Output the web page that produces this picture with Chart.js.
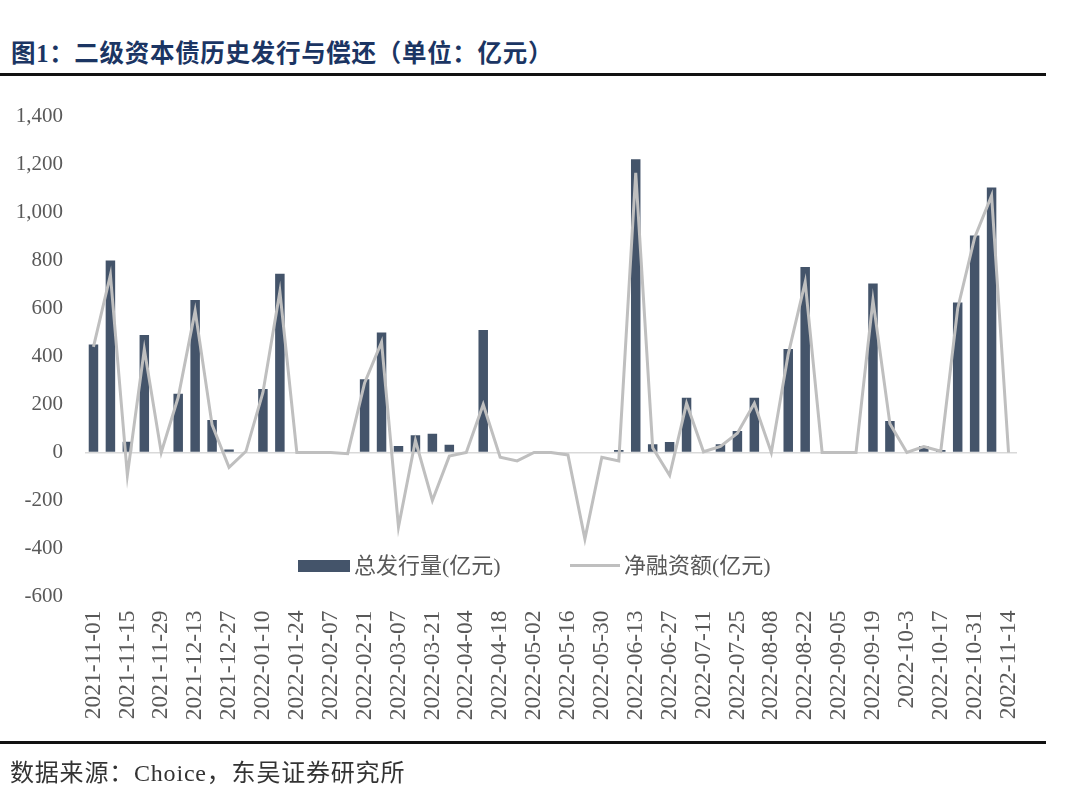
<!DOCTYPE html>
<html>
<head>
<meta charset="utf-8">
<title>二级资本债历史发行与偿还</title>
<script src="https://cdn.jsdelivr.net/npm/chart.js@4.4.1/dist/chart.umd.min.js"></script>
<style>
    body {
        margin: 0;
        width: 1080px;
        height: 802px;
        background: #fff;
        position: relative;
        overflow: hidden;
        font-family: "Liberation Serif", "Noto Sans CJK SC", serif;
    }
    #chart {
        position: absolute;
        left: 0;
        top: 0;
    }
    .title {
        position: absolute;
        left: 11px;
        top: 34px;
        font: bold 24.5px "Liberation Serif", "Noto Sans CJK SC", serif;
        letter-spacing: 0.7px;
        color: #1b3563;
        white-space: nowrap;
    }
    .rule {
        position: absolute;
        left: 0;
        width: 1046px;
        height: 3px;
        background: #111;
    }
    .source {
        position: absolute;
        left: 10px;
        top: 753px;
        font-size: 24px;
        letter-spacing: 0.8px;
        color: #333;
        white-space: nowrap;
    }
    .legend {
        position: absolute;
        top: 552px;
        font-size: 22px;
        color: #595959;
        white-space: nowrap;
        line-height: 28px;
    }
    .swatch {
        display: inline-block;
        vertical-align: middle;
        margin-right: 4px;
        position: relative;
        top: -2px;
    }
</style>
</head>
<body>
<div class="title">图1：二级资本债历史发行与偿还（单位：亿元）</div>
<div class="rule" style="top:73px"></div>

<canvas id="chart" width="1080" height="802"></canvas>

<div class="legend" style="left:298px"><span class="swatch" style="width:52px;height:12px;background:#44546a"></span>总发行量(亿元)</div>
<div class="legend" style="left:570px"><span class="swatch" style="width:50px;height:3px;background:#bfbfbf"></span>净融资额(亿元)</div>

<div class="rule" style="top:741px"></div>
<div class="source">数据来源：Choice，东吴证券研究所</div>

<script>
// weekly dates (every other one is shown on the axis)
const dates = [
    '2021-11-01', '2021-11-08', '2021-11-15', '2021-11-22', '2021-11-29',
    '2021-12-06', '2021-12-13', '2021-12-20', '2021-12-27', '2022-01-03',
    '2022-01-10', '2022-01-17', '2022-01-24', '2022-01-31', '2022-02-07',
    '2022-02-14', '2022-02-21', '2022-02-28', '2022-03-07', '2022-03-14',
    '2022-03-21', '2022-03-28', '2022-04-04', '2022-04-11', '2022-04-18',
    '2022-04-25', '2022-05-02', '2022-05-09', '2022-05-16', '2022-05-23',
    '2022-05-30', '2022-06-06', '2022-06-13', '2022-06-20', '2022-06-27',
    '2022-07-04', '2022-07-11', '2022-07-18', '2022-07-25', '2022-08-01',
    '2022-08-08', '2022-08-15', '2022-08-22', '2022-08-29', '2022-09-05',
    '2022-09-12', '2022-09-19', '2022-09-26', '2022-10-3', '2022-10-10',
    '2022-10-17', '2022-10-24', '2022-10-31', '2022-11-07', '2022-11-14'
];

// 总发行量(亿元)
const totalIssue = [
    450, 800, 45, 490, 0, 245, 635, 135, 12, 0,
    265, 745, 0, 0, 0, 0, 305, 500, 27, 72,
    78, 32, 0, 510, 0, 0, 0, 0, 0, 0,
    0, 10, 1222, 34, 44, 228, 0, 34, 90, 228,
    0, 431, 773, 0, 0, 0, 704, 131, 0, 27,
    10, 625, 904, 1104, 0
];

// 净融资额(亿元)
const netFinance = [
    440, 740, -95, 430, 0, 230, 590, 115, -62, 5,
    250, 670, 0, 0, 0, -5, 290, 460, -310, 50,
    -200, -15, 0, 200, -20, -35, 0, 0, -10, -360,
    -20, -35, 1165, 20, -95, 205, 3, 25, 80, 205,
    0, 410, 710, 0, 0, 0, 635, 120, 0, 25,
    5, 600, 895, 1070, 0
];

const yMin = -600;
const yMax = 1400;
const yStep = 200;

const fontFamily = '"Liberation Serif", "Noto Sans CJK SC", serif';

const ctx = document.getElementById('chart').getContext('2d');
const issueChart = new Chart(ctx, {
    type: 'bar',
    data: {
        labels: dates,
        datasets: [
            {
                type: 'line',
                label: '净融资额(亿元)',
                data: netFinance,
                borderColor: '#bfbfbf',
                borderWidth: 3,
                pointRadius: 0,
                tension: 0,
                order: 0,
            },
            {
                label: '总发行量(亿元)',
                data: totalIssue,
                backgroundColor: '#44546a',
                barPercentage: 0.56,
                categoryPercentage: 1,
                order: 1,
            },
        ],
    },
    options: {
        responsive: false,
        animation: false,
        devicePixelRatio: 1,
        layout: {
            padding: { top: 116.5, right: 63, bottom: 0, left: 0 },
        },
        plugins: {
            legend: { display: false },
            tooltip: { enabled: false },
        },
        scales: {
            x: {
                grid: { display: false, drawTicks: false },
                border: { display: false },
                ticks: {
                    autoSkip: false,
                    maxRotation: 90,
                    minRotation: 90,
                    padding: 14,
                    color: '#595959',
                    font: { family: fontFamily, size: 23.5 },
                    callback: (value, index) => index % 2 === 0 ? dates[index] : '',
                },
                afterFit: (scale) => { scale.height = 205.5; },
            },
            y: {
                min: yMin,
                max: yMax,
                grid: {
                    drawTicks: false,
                    lineWidth: 1.5,
                    color: (c) => c.tick && c.tick.value === 0 ? '#d9d9d9' : 'rgba(0,0,0,0)',
                },
                border: { display: false },
                ticks: {
                    stepSize: yStep,
                    padding: 22,
                    color: '#595959',
                    font: { family: fontFamily, size: 21 },
                    callback: (value) => value.toLocaleString('en-US'),
                },
                afterFit: (scale) => { scale.width = 85; },
            },
        },
    },
});
</script>
</body>
</html>
